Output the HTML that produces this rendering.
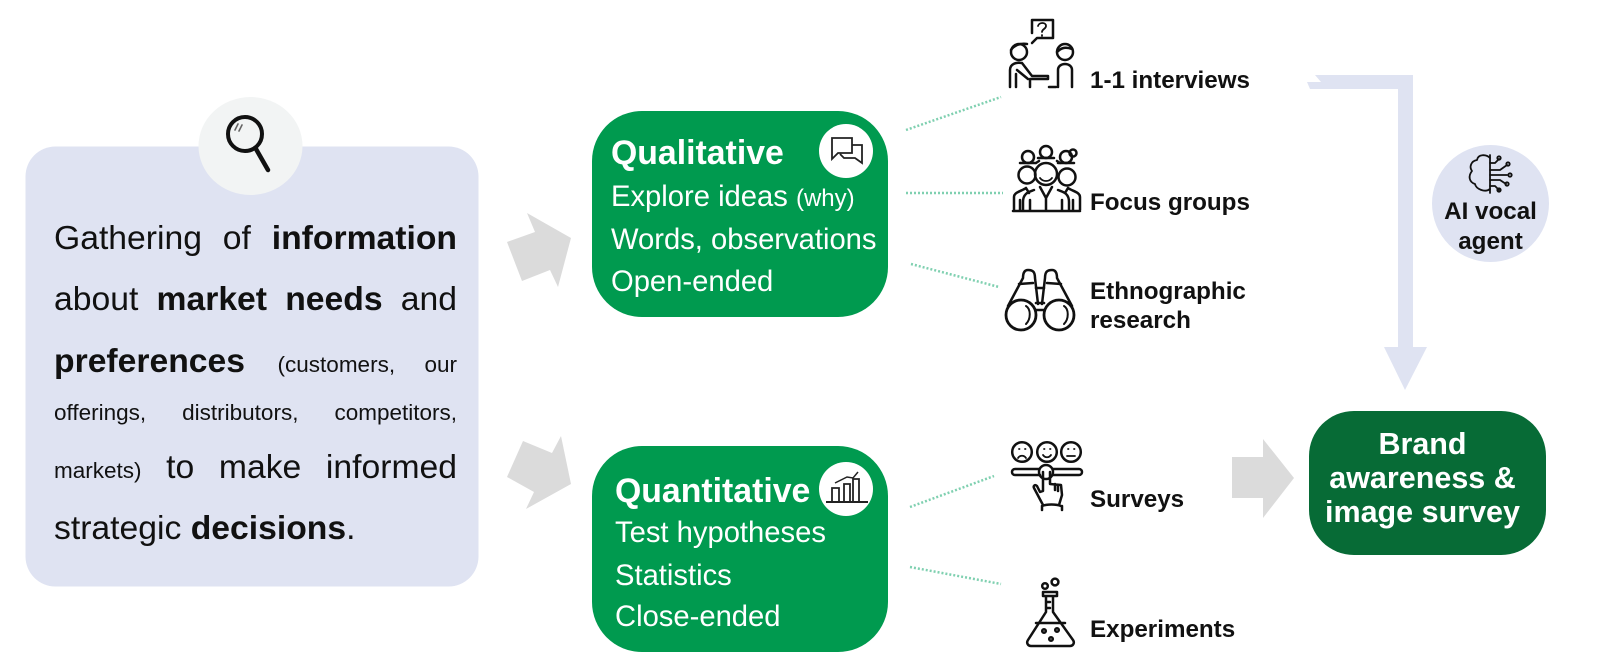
<!DOCTYPE html>
<html><head><meta charset="utf-8"><style>
html,body{margin:0;padding:0;background:#fff}
#p{position:relative;width:1600px;height:660px;overflow:hidden;font-family:"Liberation Sans",sans-serif;color:#111}
.j{position:absolute;left:54px;width:403px;font-size:33.7px;line-height:40px;white-space:normal;text-align:justify;text-align-last:justify;color:#111}
.j small{font-size:22.5px}
.g{position:absolute;color:#fff;font-size:29.2px;line-height:36px;white-space:nowrap}
.t{position:absolute;font-weight:bold;font-size:24.2px;line-height:28px;color:#111;white-space:nowrap}
svg{position:absolute;left:0;top:0}
</style></head><body><div id="p">
<svg width="1600" height="660" viewBox="0 0 1600 660">
<rect x="25.5" y="146.5" width="453" height="440" rx="30" fill="#dfe3f2"/>
<ellipse cx="250.5" cy="146" rx="52" ry="49" fill="#f2f4f4"/>
<g fill="none" stroke="#111" stroke-linecap="round"><circle cx="245" cy="134" r="17" stroke-width="4"/><path d="M256 149L268 170" stroke-width="4.5"/><path d="M238 124l-3 6M242 125l-3 6" stroke-width="1.6" stroke="#666"/></g>
<g fill="#dbdbdb">
<polygon points="507,242 535,232 527,213 571,238 558,287 550,270 522,281"/>
<polygon points="507,477 523,441 552,453 561,436 571,484 526,509 534,492"/>
<polygon points="1232,457 1263,457 1263,439 1294,478 1263,518 1263,498 1232,498"/>
</g>
<rect x="592" y="111" width="296" height="206" rx="50" fill="#009a4f"/>
<rect x="592" y="446" width="296" height="206" rx="50" fill="#009a4f"/>
<rect x="1309" y="411" width="237" height="144" rx="45" fill="#076b36"/>
<circle cx="846" cy="151" r="27" fill="#fff"/><circle cx="846" cy="489" r="27" fill="#fff"/>
<g fill="none" stroke="#222" stroke-width="1.8">
<path d="M852 138H832V159L838 153H852Z"/><path d="M852 145H862V163L855 158H844L840 154"/>
<path d="M826 502H868" stroke-width="2"/><path d="M832 501V488H839V501M844 501V484H850V501M853 501V479H859V501"/>
<path d="M835 483L847 477L853 478L858 472" stroke-width="1.5"/>
</g>
<g stroke="#7fd0b0" stroke-width="2.5" stroke-dasharray="2 2" fill="none">
<path d="M906 130L1001 97"/><path d="M906 193L1003 193"/><path d="M911 264L999 287"/><path d="M910 507L994 476"/><path d="M910 567L1001 584"/>
</g>
<g fill="#dfe3f2">
<polygon points="1315,75 1413,75 1413,347 1427,347 1405,390 1384,347 1398,347 1398,89 1310,89 1307,82 1321,82"/>
<circle cx="1490.5" cy="203.5" r="58.5"/>
</g>
<g fill="none" stroke="#111" stroke-width="2.5" stroke-linecap="round" stroke-linejoin="round">
<!-- interviews -->
<path d="M1032 33V20H1053V38H1037L1032 43"/>
<path d="M1038 26c1-4 8-4 8 0c0 3-4 3-4 6M1042 35v1" stroke-width="1.8"/>
<circle cx="1019" cy="52" r="8"/><path d="M1011 50c3-5 10-7 16-6"/>
<circle cx="1065" cy="52" r="8"/><path d="M1057 52c3-3 7-6 15-3"/>
<path d="M1010 87V70c0-6 6-8 12-7l10 13h16v3h-18v8M1017 70l11 9M1016 87V74M1049 87h7"/>
<path d="M1058 87V70c0-8 14-8 14 0v17"/>
<!-- focus -->
<circle cx="1028" cy="157" r="6"/><circle cx="1046" cy="152" r="6"/><circle cx="1066" cy="157" r="6"/><circle cx="1073" cy="153" r="3.5"/>
<path d="M1036 163l3-2M1057 161l3 2M1020 163h16M1038 158h16M1058 163h16"/>
<circle cx="1027" cy="175" r="8.5"/><circle cx="1046" cy="174" r="11"/><circle cx="1067" cy="177" r="8.5"/>
<path d="M1040 178c3 4 9 4 12 0" stroke-width="1.8"/>
<path d="M1014 210V197c0-5 8-6 12-9l3 5M1080 210V197c0-5-8-6-12-9l-3 5M1034 190c-5 2-11 3-11 12v8M1058 190c5 2 11 3 11 12v8M1040 187l6 11 6-11M1046 198v12M1013 211H1080M1020 200V210M1073 200V210M1030 200V210M1062 200V210"/>
<!-- binoculars -->
<path d="M1008 306L1023 278c0-7 3-8 5-8c5 0 7 2 7 8L1038 304"/><path d="M1072 306L1057 278c0-7-3-8-5-8c-5 0-7 2-7 8L1042 304"/>
<path d="M1019 284l14-1M1061 284l-14-1"/>
<path d="M1036 288H1044M1036 303H1044M1036 310H1044" stroke-width="2.6"/>
<circle cx="1021" cy="315" r="15" stroke-width="2.8"/><circle cx="1059" cy="315" r="15" stroke-width="2.8"/>
<path d="M1026 306c5 3 5 13 0 18M1064 306c5 3 5 13 0 18" stroke-width="2"/>
<!-- surveys -->
<circle cx="1022" cy="452" r="9.8"/><circle cx="1047" cy="452" r="9.8"/><circle cx="1071" cy="452" r="9.8"/>
<path d="M1018 458c2-3 6-3 8 0M1043 455c2 3 6 3 8 0M1067 456h8M1019 449h.5M1025 449h.5M1044 449h.5M1050 449h.5M1068 449h.5M1074 449h.5" stroke-width="1.8"/>
<path d="M1039 469H1015c-4 0-4 6 0 6H1040M1053 469H1079c4 0 4 6 0 6H1053"/>
<circle cx="1046" cy="472" r="7"/>
<path d="M1043 472V491l-3 1-3-6c-2-2-4 0-3 2l9 17M1050 472V484l11 1l1 10-3 10M1055 484v6M1058 485v6M1042 506c5-2 14-2 19 0M1042 506v4M1062 506v4"/>
<!-- flask -->
<circle cx="1045" cy="586" r="2.8"/><circle cx="1055" cy="582" r="3.4"/>
<path d="M1043 592H1057V596H1043ZM1046 596V612L1028 640c-2 3 0 6 3 6H1070c3 0 5-3 3-6L1053 612V596M1036 623H1065M1046 602h4M1046 608h4"/>
<circle cx="1044" cy="631" r="1.8"/><circle cx="1057" cy="630" r="1.8"/><circle cx="1051" cy="639" r="1.8"/>
<!-- brain -->
<g stroke-width="1.8">
<path d="M1490 155v38"/><path d="M1490 158c-4-4-12-4-13 2c-6 1-8 7-5 11c-4 5-3 11 3 13c1 5 10 9 15 5"/>
<path d="M1490 163h5l4-4M1490 170h10l7-5M1490 175h17M1490 180h10l6 4M1490 186h5l4 4"/>
<circle cx="1499" cy="158" r="1.7"/><circle cx="1508" cy="164" r="1.7"/><circle cx="1510" cy="175" r="1.7"/><circle cx="1507" cy="184" r="1.7"/><circle cx="1499" cy="190" r="1.7"/>
</g>
</g>
</svg>
<div class="j" style="top:218px">Gathering of <b>information</b></div>
<div class="j" style="top:279px">about <b>market needs</b> and</div>
<div class="j" style="top:341px"><b>preferences</b> <small>(customers, our</small></div>
<div class="j" style="top:393px;font-size:22.5px">offerings, distributors, competitors,</div>
<div class="j" style="top:447px"><small>markets)</small> to make informed</div>
<div class="j" style="top:508px;text-align-last:left">strategic <b>decisions</b>.</div>

<div class="g" style="left:611px;top:135px;font-size:33.8px;font-weight:bold">Qualitative</div>
<div class="g" style="left:611px;top:179px">Explore ideas <span style="font-size:24px">(why)</span></div>
<div class="g" style="left:611px;top:222px">Words, observations</div>
<div class="g" style="left:611px;top:264px">Open-ended</div>
<div class="g" style="left:615px;top:473px;font-size:33.8px;font-weight:bold">Quantitative</div>
<div class="g" style="left:615px;top:515px">Test hypotheses</div>
<div class="g" style="left:615px;top:558px">Statistics</div>
<div class="g" style="left:615px;top:599px">Close-ended</div>

<div class="t" style="left:1090px;top:67px">1-1 interviews</div>
<div class="t" style="left:1090px;top:189px">Focus groups</div>
<div class="t" style="left:1090px;top:278px">Ethnographic</div>
<div class="t" style="left:1090px;top:307px">research</div>
<div class="t" style="left:1090px;top:486px">Surveys</div>
<div class="t" style="left:1090px;top:616px">Experiments</div>
<div class="t" style="left:1432px;width:117px;text-align:center;top:198px">AI vocal</div>
<div class="t" style="left:1432px;width:117px;text-align:center;top:228px">agent</div>
<div class="t" style="left:1304px;width:237px;text-align:center;top:427px;font-size:30.5px;line-height:34px;color:#fff">Brand<br>awareness &amp;<br>image survey</div>
</div></body></html>
